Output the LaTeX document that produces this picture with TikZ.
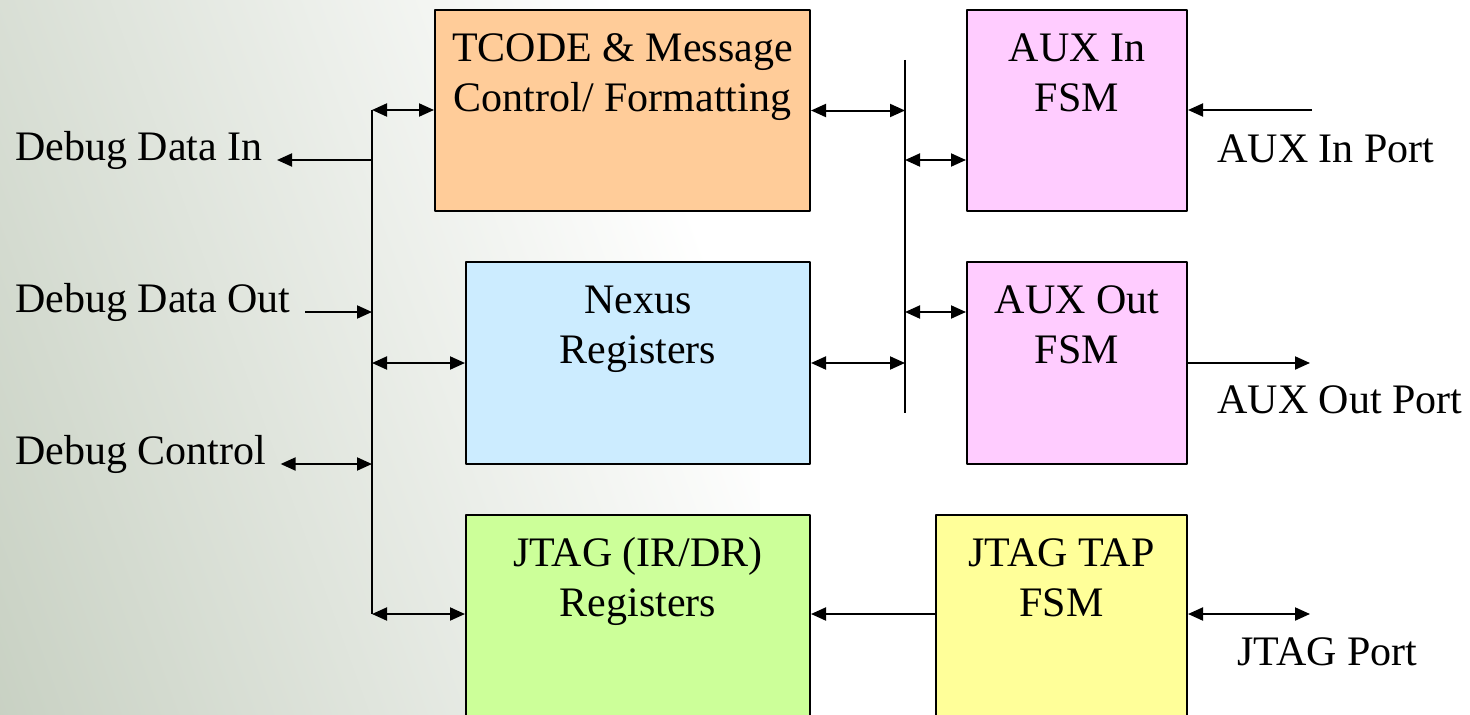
\documentclass[tikz,border=0pt]{standalone}
\usepackage{fontspec}
\setmainfont{Liberation Serif}
\usetikzlibrary{arrows.meta,positioning}
\definecolor{tcodefill}{HTML}{FFCC99}
\definecolor{nexusfill}{HTML}{CCECFF}
\definecolor{jtagfill}{HTML}{CCFF99}
\definecolor{auxfill}{HTML}{FFCCFF}
\definecolor{tapfill}{HTML}{FFFF99}
\definecolor{bgshade}{RGB}{192,202,186}
\begin{document}
\begin{tikzpicture}[>={Triangle[length=7.5pt,width=6.5pt]},line join=bevel,
  every node/.style={font=\fontsize{21pt}{25pt}\selectfont},
  blk/.style={draw=black,line width=1pt,inner sep=0pt},
  blktxt/.style={align=center,inner sep=0pt},
  port/.style={inner sep=7pt,anchor=base west},
  wire/.style={line width=1pt},]
%%
\path[use as bounding box,clip] (0pt,0pt) rectangle (735pt,357pt);
\shade[left color=bgshade,right color=white,shading angle=110,draw=none]
  (-140pt,0pt) rectangle (380pt,357pt);
%
\node (node_tcode) at (311.25pt,301.75pt) [blk,fill=tcodefill,minimum width=187.5pt,minimum height=100.5pt] {};
  \node (node_nexus) at (319pt,175.5pt) [blk,fill=nexusfill,minimum width=172pt,minimum height=101pt] {};
  \node (node_jtagreg) at (319pt,44.5pt) [blk,fill=jtagfill,minimum width=172pt,minimum height=110pt] {};
  \node (node_auxin) at (538.5pt,301.75pt) [blk,fill=auxfill,minimum width=110pt,minimum height=100.5pt] {};
  \node (node_auxout) at (538.5pt,175.5pt) [blk,fill=auxfill,minimum width=110pt,minimum height=101pt] {};
  \node (node_jtagtap) at (530.75pt,44.5pt) [blk,fill=tapfill,minimum width=125.5pt,minimum height=110pt] {};
%
\node (node_tcode_txt) [blktxt,below=8.5pt of node_tcode.north] {\strut TCODE \& Message\\Control/ Formatting};
  \node (node_nexus_txt) [blktxt,below=8.5pt of node_nexus.north] {\strut Nexus\\Registers};
  \node (node_jtagreg_txt) [blktxt,below=8.5pt of node_jtagreg.north] {\strut JTAG (IR/DR)\\Registers};
  \node (node_auxin_txt) [blktxt,below=8.5pt of node_auxin.north] {\strut AUX In\\FSM};
  \node (node_auxout_txt) [blktxt,below=8.5pt of node_auxout.north] {\strut AUX Out\\FSM};
  \node (node_jtagtap_txt) [blktxt,below=8.5pt of node_jtagtap.north] {\strut JTAG TAP\\FSM};
%
\node (node_din) at (0.5pt,277pt) [port] {Debug Data In};
  \node (node_dout) at (0.5pt,201pt) [port] {Debug Data Out};
  \node (node_dctl) at (0.5pt,125pt) [port] {Debug Control};
  \node (node_auxinport) at (608.5pt,276pt) [port,inner sep=0pt] {AUX In Port};
  \node (node_auxoutport) at (608.5pt,150.5pt) [port,inner sep=0pt] {AUX Out Port};
  \node (node_jtagport) at (618.5pt,24.5pt) [port,inner sep=0pt] {JTAG Port};
%
\coordinate (node_busl_top) at (186pt,302pt);
  \coordinate (node_busl_in) at (186pt,277pt);
  \coordinate (node_busl_out) at (186pt,201pt);
  \coordinate (node_busl_ctl) at (186pt,125pt);
  \coordinate (node_busl_bot) at (186pt,50pt);
  \coordinate (node_busr_top) at (452.5pt,327pt);
  \coordinate (node_busr_in) at (452.5pt,277pt);
  \coordinate (node_busr_out) at (452.5pt,201pt);
  \coordinate (node_busr_bot) at (452.5pt,150.5pt);
  \coordinate (node_auxin_end) at (656pt,302pt);
  \coordinate (node_auxout_end) at (655pt,175.5pt);
  \coordinate (node_jtag_end) at (655pt,50pt);
%
\draw [wire] (node_busl_top) -- (node_busl_bot);
  \draw [wire] (node_busr_top) -- (node_busr_bot);
  \draw [wire,<->] (node_busl_top) -- (node_busl_top -| node_tcode.west);
  \draw [wire,->] (node_busl_in) -- (node_din.base east);
  \draw [wire,->] (node_dout.base east) -- (node_busl_out);
  \draw [wire,<->] (node_busl_out |- node_nexus.west) -- (node_nexus.west);
  \draw [wire,<->] (node_dctl.base east) -- (node_busl_ctl);
  \draw [wire,<->] (node_busl_bot) -- (node_busl_bot -| node_jtagreg.west);
  \draw [wire,<->] (node_tcode.east) -- (node_tcode.east -| node_busr_top);
  \draw [wire,<->] (node_nexus.east) -- (node_nexus.east -| node_busr_top);
  \draw [wire,<->] (node_busr_in) -- (node_busr_in -| node_auxin.west);
  \draw [wire,<->] (node_busr_out) -- (node_busr_out -| node_auxout.west);
  \draw [wire,->] (node_auxin_end) -- (node_auxin_end -| node_auxin.east);
  \draw [wire,->] (node_auxout.east) -- (node_auxout_end);
  \draw [wire,->] (node_jtag_end -| node_jtagtap.west) -- (node_jtag_end -| node_jtagreg.east);
  \draw [wire,<->] (node_jtag_end -| node_jtagtap.east) -- (node_jtag_end);
%
\end{tikzpicture}
\end{document}
